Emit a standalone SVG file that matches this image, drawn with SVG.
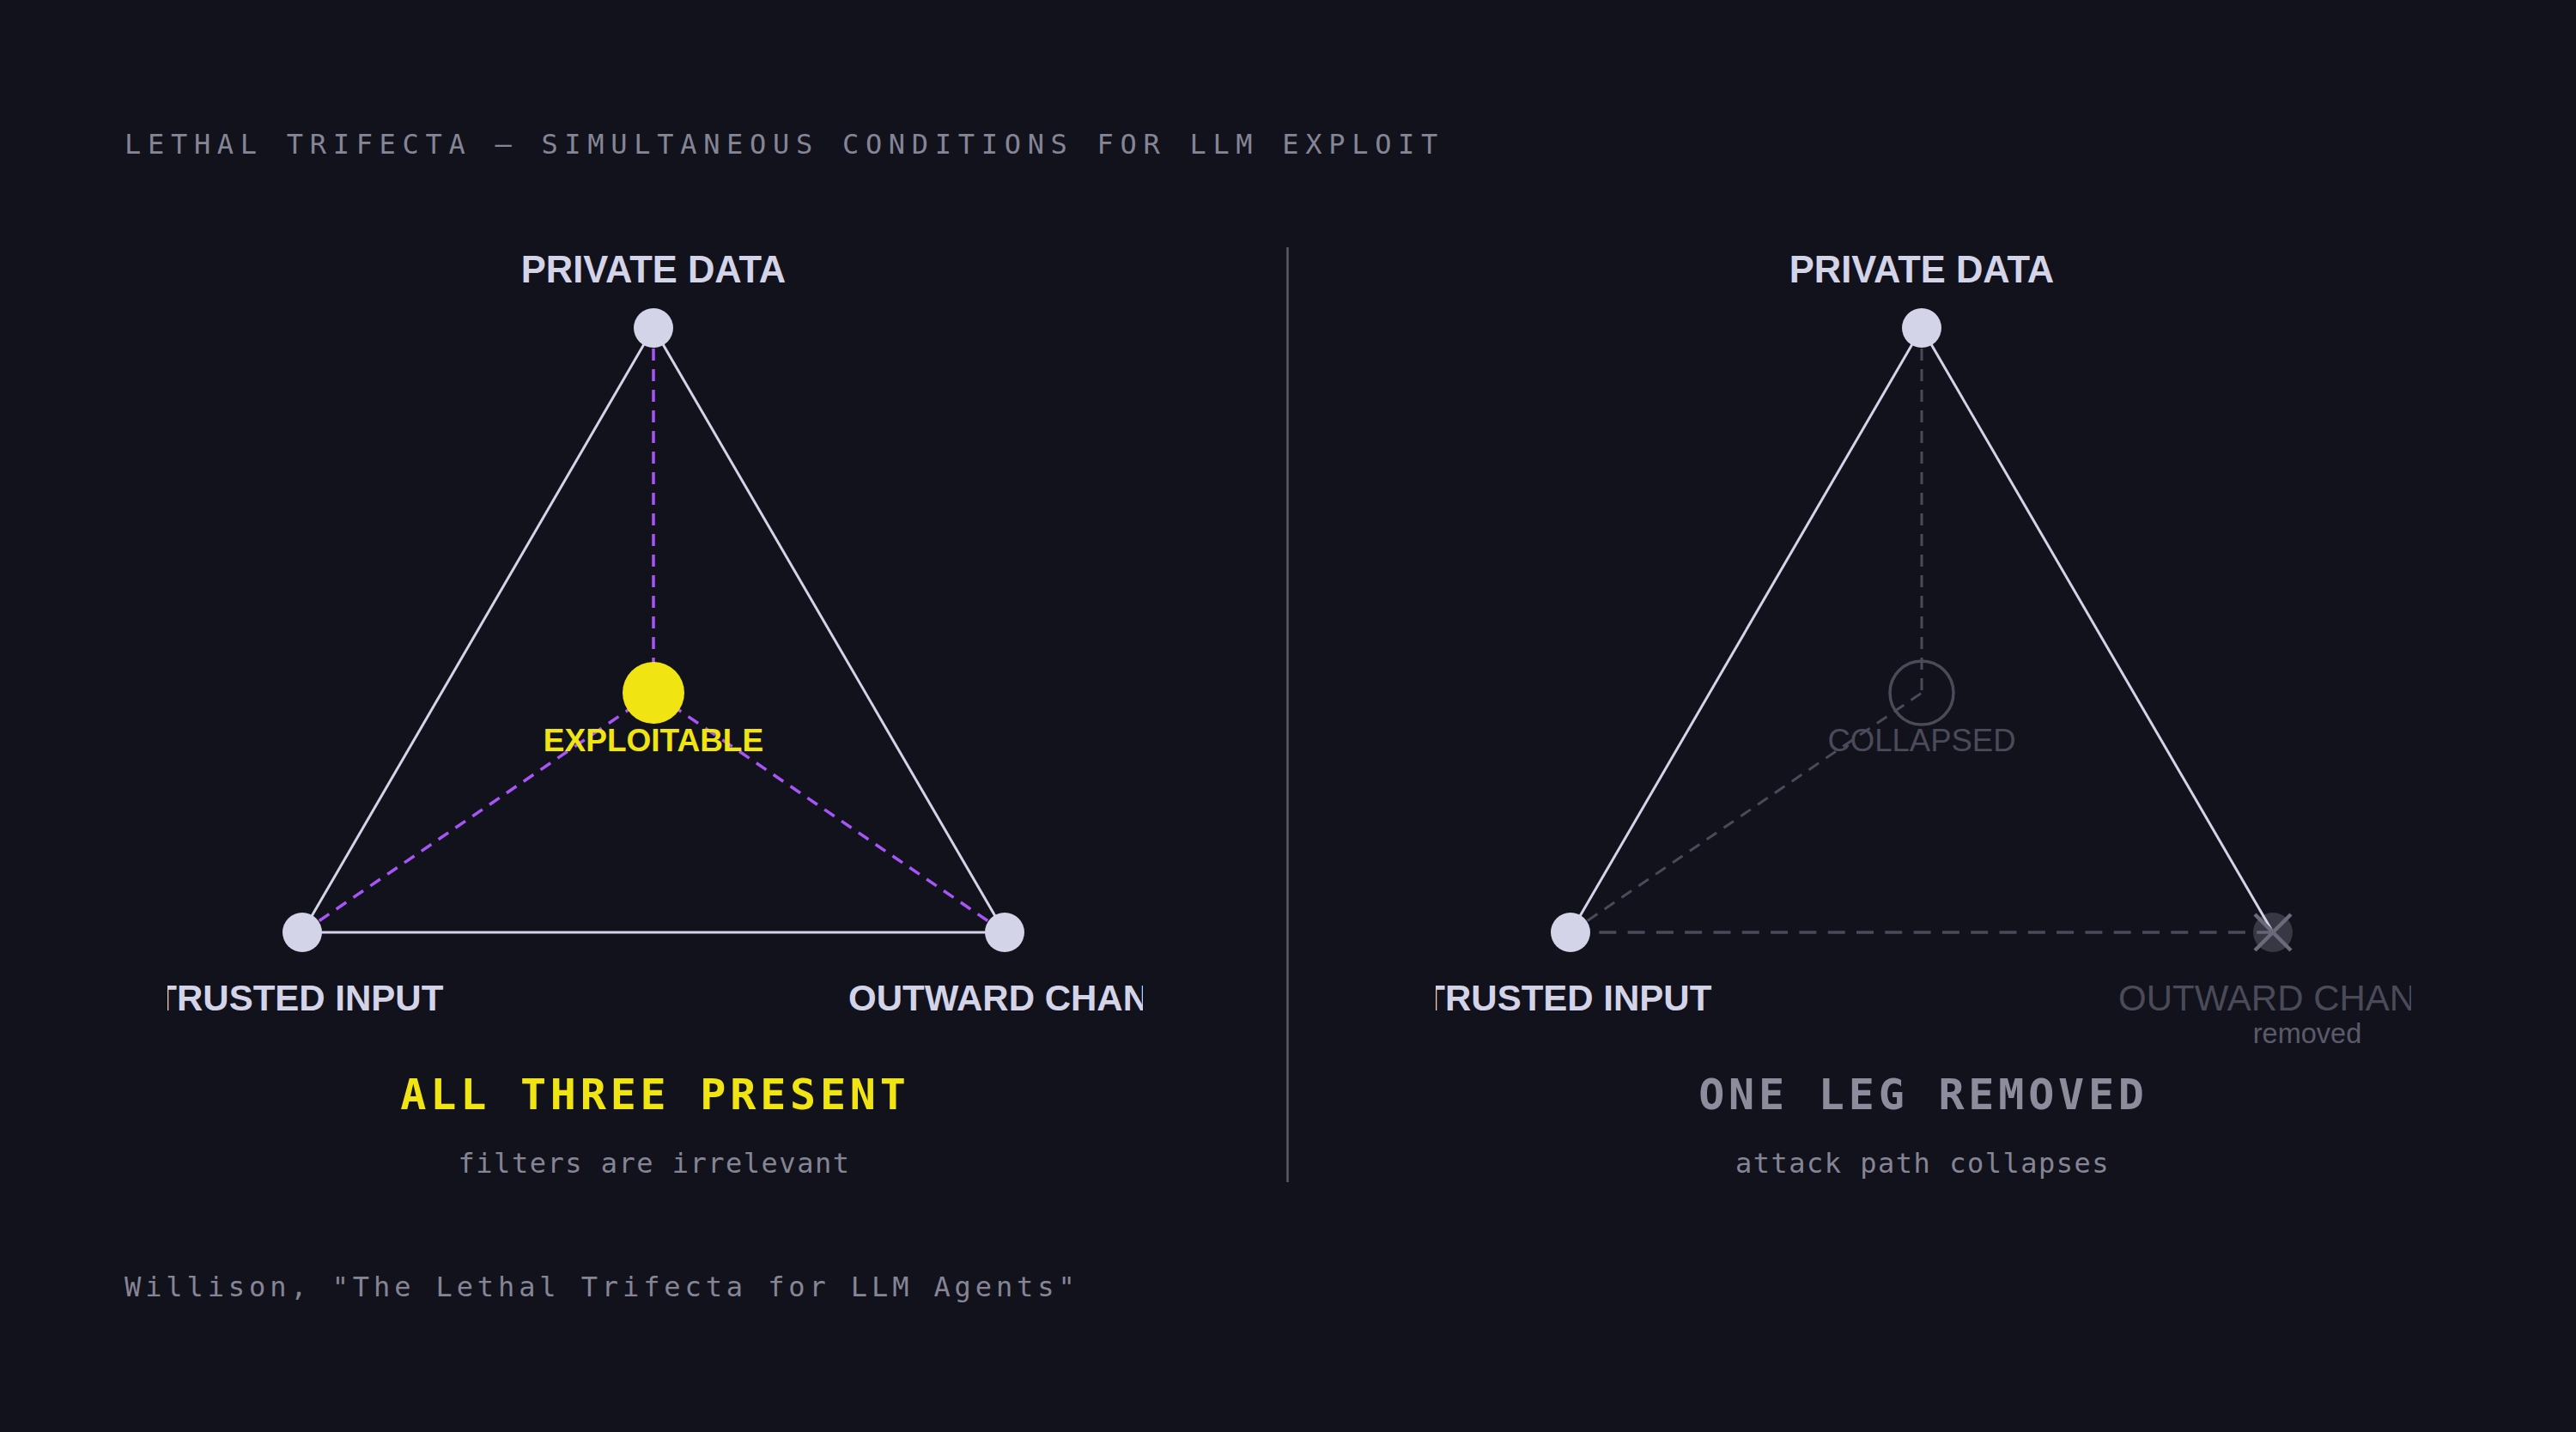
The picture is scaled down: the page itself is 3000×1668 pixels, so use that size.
<svg xmlns="http://www.w3.org/2000/svg" width="3000" height="1668" viewBox="0 0 3000 1668">
<style>
.mono{font-family:"DejaVu Sans Mono","Liberation Mono",monospace}
.sans{font-family:"Liberation Sans",Arial,sans-serif}
.edge{stroke:#d4d4e8;stroke-width:3;fill:none}
.attack{stroke:#a855f7;stroke-width:3.5;stroke-dasharray:14 10;fill:none}
.dimdash{stroke:#4a4a5a;stroke-width:3;stroke-dasharray:14 10;fill:none}
.basedash{stroke:#4a4a5a;stroke-width:3.5;stroke-dasharray:20 13.3;fill:none}
.node{fill:#d4d4e8}
.label{font-size:42px;font-weight:bold;fill:#d4d4e8;text-anchor:middle}
.top{font-size:43.5px}
.dimlabel{font-size:42px;fill:#4a4a58;text-anchor:middle}
.caption{font-size:50px;font-weight:bold;letter-spacing:4.8px;text-anchor:middle}
.sub{font-size:32px;letter-spacing:1.5px;fill:#858595;text-anchor:middle}
.meta{font-size:32px;fill:#858595}
</style>
<defs>
<clipPath id="clipL"><rect x="195" y="0" width="1136" height="1668"/></clipPath>
<clipPath id="clipR"><rect x="1672" y="0" width="1136" height="1668"/></clipPath>
</defs>
<rect x="0" y="0" width="3000" height="1668" fill="#12121c"/>
<text class="mono meta" x="145" y="179" style="letter-spacing:7.7px">LETHAL TRIFECTA — SIMULTANEOUS CONDITIONS FOR LLM EXPLOIT</text>
<line x1="1499.5" y1="288" x2="1499.5" y2="1377" stroke="#5a5a68" stroke-width="2.5"/>

<g id="connectors">
  <g id="left-connectors">
    <line class="edge" x1="761" y1="382" x2="352" y2="1086"/>
    <line class="edge" x1="761" y1="382" x2="1170" y2="1086"/>
    <line class="edge" x1="352" y1="1086" x2="1170" y2="1086"/>
    <line class="attack" x1="761" y1="382" x2="761" y2="807"/>
    <line class="attack" x1="352" y1="1086" x2="761" y2="807"/>
    <line class="attack" x1="1170" y1="1086" x2="761" y2="807"/>
  </g>
  <g id="right-connectors">
    <line class="edge" x1="2238" y1="382" x2="1829" y2="1086"/>
    <line class="edge" x1="2238" y1="382" x2="2647" y2="1086"/>
    <line class="basedash" x1="1829" y1="1086" x2="2647" y2="1086"/>
    <line class="dimdash" x1="2238" y1="382" x2="2238" y2="807"/>
    <line class="dimdash" x1="1829" y1="1086" x2="2238" y2="807"/>
  </g>
</g>

<g id="left-private-data">
  <circle class="node" cx="761" cy="382" r="23"/>
  <text class="sans label top" x="761" y="329">PRIVATE DATA</text>
</g>
<g id="left-untrusted-input">
  <circle class="node" cx="352" cy="1086" r="23"/>
  <text class="sans label" x="318" y="1177" clip-path="url(#clipL)">UNTRUSTED INPUT</text>
</g>
<g id="left-outward-channel">
  <circle class="node" cx="1170" cy="1086" r="23"/>
  <text class="sans label" x="1205" y="1177" clip-path="url(#clipL)">OUTWARD CHANNEL</text>
</g>
<g id="left-exploitable">
  <circle cx="761" cy="807" r="36" fill="#f0e512"/>
  <text class="sans" x="761" y="875" font-size="37" font-weight="bold" fill="#f0e512" text-anchor="middle">EXPLOITABLE</text>
</g>
<g id="left-caption">
  <text class="mono caption" x="763" y="1292" fill="#f0e512">ALL THREE PRESENT</text>
  <text class="mono sub" x="762" y="1366">filters are irrelevant</text>
</g>

<g id="right-private-data">
  <circle class="node" cx="2238" cy="382" r="23"/>
  <text class="sans label top" x="2238" y="329">PRIVATE DATA</text>
</g>
<g id="right-untrusted-input">
  <circle class="node" cx="1829" cy="1086" r="23"/>
  <text class="sans label" x="1795" y="1177" clip-path="url(#clipR)">UNTRUSTED INPUT</text>
</g>
<g id="right-outward-channel">
  <circle cx="2647" cy="1086" r="23" fill="#d4d4e8" fill-opacity="0.2"/>
  <line x1="2626" y1="1065" x2="2668" y2="1107" stroke="#6a6a7a" stroke-width="4.5"/>
  <line x1="2668" y1="1065" x2="2626" y2="1107" stroke="#6a6a7a" stroke-width="4.5"/>
  <text class="sans dimlabel" x="2681" y="1177" clip-path="url(#clipR)">OUTWARD CHANNEL</text>
  <text class="sans" x="2687" y="1215" font-size="32.5" fill="#5a5a6a" text-anchor="middle">removed</text>
</g>
<g id="right-collapsed">
  <circle cx="2238" cy="807" r="37" fill="none" stroke="#4a4a58" stroke-width="3.5"/>
  <text class="sans" x="2238" y="875" font-size="36.5" fill="#4a4a58" text-anchor="middle">COLLAPSED</text>
</g>
<g id="right-caption">
  <text class="mono caption" x="2240" y="1292" fill="#8c8c9c">ONE LEG REMOVED</text>
  <text class="mono sub" x="2239" y="1366">attack path collapses</text>
</g>

<text class="mono meta" x="145" y="1510" style="letter-spacing:4.9px">Willison, "The Lethal Trifecta for LLM Agents"</text>
</svg>
